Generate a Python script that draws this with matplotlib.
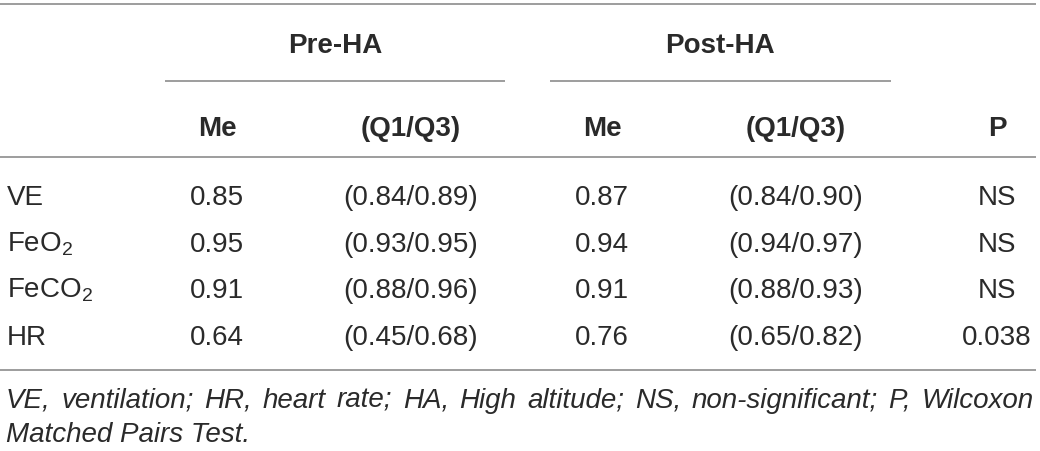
import matplotlib
matplotlib.use("Agg")
import matplotlib.pyplot as plt
from matplotlib import font_manager

plt.rcParams['font.family'] = ['Liberation Sans', 'DejaVu Sans']
plt.rcParams['mathtext.fontset'] = 'custom'
plt.rcParams['mathtext.rm'] = 'Liberation Sans'
plt.rcParams['mathtext.it'] = 'Liberation Sans:italic'

# --- table data ---
groups = ["Pre-HA", "Post-HA"]
col_heads = ["Me", "(Q1/Q3)", "Me", "(Q1/Q3)", "P"]
row_labels = ["VE", r"FeO$_\mathrm{2}$", r"FeCO$_\mathrm{2}$", "HR"]
pre_me = ["0.85", "0.95", "0.91", "0.64"]
pre_q = ["(0.84/0.89)", "(0.93/0.95)", "(0.88/0.96)", "(0.45/0.68)"]
post_me = ["0.87", "0.94", "0.91", "0.76"]
post_q = ["(0.84/0.90)", "(0.94/0.97)", "(0.88/0.93)", "(0.65/0.82)"]
p_vals = ["NS", "NS", "NS", "0.038"]
note_line1 = ("VE, ventilation; HR, heart rate; HA, High altitude; NS, non-significant; "
              "P, Wilcoxon")
note_line2 = "Matched Pairs Test."

W, H = 1040, 452
fig = plt.figure(figsize=(W / 100, H / 100), dpi=100)
ax = fig.add_axes([0, 0, 1, 1])
ax.set_xlim(0, W)
ax.set_ylim(H, 0)
ax.axis('off')

txt = '#2a2a2a'
rule = '#8c8c8c'
fs = 20

# rules
for y in (5, 158, 371):
    ax.plot([0, 1036], [y, y], color=rule, lw=1.2, solid_capstyle='butt')
ax.plot([165, 505], [82, 82], color=rule, lw=1.2, solid_capstyle='butt')
ax.plot([550, 891], [82, 82], color=rule, lw=1.2, solid_capstyle='butt')

# group headers
for gx, g in zip([335, 720], groups):
    ax.text(gx, 53, g, ha='center', va='baseline', fontsize=fs, fontweight='bold', color=txt)

# column headers
col_x = [217, 411, 602, 796, 997]
for cx, c in zip(col_x, col_heads):
    ax.text(cx, 136, c, ha='center', va='baseline', fontsize=fs, fontweight='bold', color=txt)

# body rows
row_y = [205, 252, 298, 345]
for i, y in enumerate(row_y):
    ax.text(7, y, row_labels[i], ha='left', va='baseline', fontsize=fs, color=txt)
    for cx, col in zip(col_x, [pre_me, pre_q, post_me, post_q, p_vals]):
        ax.text(cx, y, col[i], ha='center', va='baseline', fontsize=fs, color=txt)

# footnote is a narrow italic face in the original
installed = {f.name for f in font_manager.fontManager.ttflist}
note_family = ['Liberation Sans Narrow'] if 'Liberation Sans Narrow' in installed else ['Liberation Sans']

fig.canvas.draw()
renderer = fig.canvas.get_renderer()
x0, x1 = 6, 1034

def text_width(s, size):
    t = ax.text(0, 0, s, fontsize=size, style='italic', family=note_family)
    w = t.get_window_extent(renderer).width
    t.remove()
    return w

fs_note = min(20, 20 * 1010 / text_width(note_line1, 20))
words = note_line1.split(" ")
widths = [text_width(w, fs_note) for w in words]
gap = (x1 - x0 - sum(widths)) / (len(words) - 1)
x = x0
for w, wd in zip(words, widths):
    ax.text(x, 408, w, ha='left', va='baseline', fontsize=fs_note, style='italic',
            family=note_family, color=txt)
    x += wd + gap
ax.text(x0, 442, note_line2, ha='left', va='baseline', fontsize=fs_note,
        style='italic', family=note_family, color=txt)

fig.savefig("out.png", dpi=100)
